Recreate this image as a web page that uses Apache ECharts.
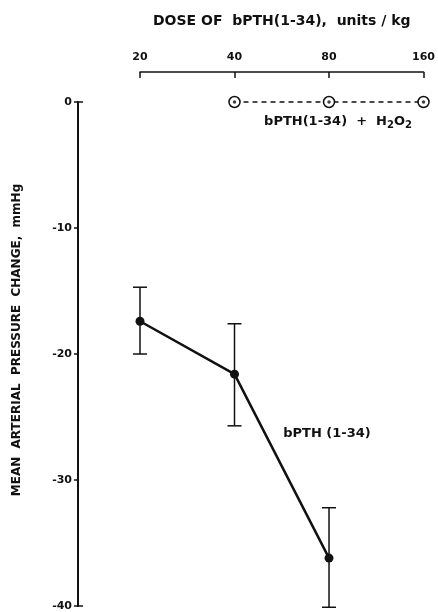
<!DOCTYPE html>
<html><head><meta charset="utf-8">
<script src="https://cdn.jsdelivr.net/npm/echarts@6/dist/echarts.min.js"></script>
<style>html,body{margin:0;padding:0;background:#fff}#c{width:438px;height:612px}</style>
</head><body><div id="c"></div>
<script>
const doseTicks = [20, 40, 80, 160];
const doses = [20, 40, 80];
const meanChange = [-17.4, -21.6, -36.2];
const errHigh = [-14.7, -17.6, -32.2];
const errLow = [-20.0, -25.7, -40.1];
const h2o2Doses = [40, 80, 160];
const h2o2Change = [0, 0, 0];
const yTicks = [0, -10, -20, -30, -40];

const base = doseTicks[0];
const lx = d => Math.log2(d / base);
const F = '"DejaVu Sans", Arial, sans-serif';
const yMin = yTicks[yTicks.length - 1], yMax = yTicks[0];

const mainData = doses.map((d, i) => [lx(d), meanChange[i]]);
const errData = doses.map((d, i) => [lx(d), errHigh[i], errLow[i]]);
const h2Data = h2o2Doses.map((d, i) => [lx(d), h2o2Change[i]]);

const chart = echarts.init(document.getElementById('c'), null, {renderer: 'canvas'});
chart.setOption({
  animation: false,
  backgroundColor: '#fff',
  grid: {left: 140, right: 12, top: 102, bottom: 6},
  xAxis: {
    type: 'value', position: 'top', offset: 30,
    min: 0, max: lx(doseTicks[doseTicks.length - 1]), interval: 1,
    name: 'DOSE OF  bPTH(1-34),  units / kg', nameLocation: 'middle', nameGap: 44,
    nameTextStyle: {fontFamily: F, fontSize: 14, fontWeight: 'bold', color: '#111'},
    axisLine: {onZero: false, lineStyle: {color: '#111', width: 1.5}},
    axisTick: {inside: true, length: 6, lineStyle: {color: '#111', width: 1.5}},
    axisLabel: {margin: 9, fontFamily: F, fontSize: 11, fontWeight: 'bold', color: '#111',
      formatter: v => String(Math.round(base * Math.pow(2, v)))},
    splitLine: {show: false}
  },
  yAxis: [{
    type: 'value', min: yMin, max: yMax, interval: 10,
    offset: 62,
    axisLine: {show: true, onZero: false, lineStyle: {color: '#111', width: 2}},
    axisTick: {show: true, length: 4, lineStyle: {color: '#111', width: 1.5}},
    axisLabel: {margin: 6, fontFamily: F, fontSize: 11, fontWeight: 'bold', color: '#111'},
    splitLine: {show: false}
  }, {
    type: 'value', position: 'left', min: yMin, max: yMax, interval: yMax - yMin,
    offset: 62,
    axisLine: {show: false, onZero: false},
    axisTick: {show: true, inside: true, length: 5, lineStyle: {color: '#111', width: 1.5}},
    axisLabel: {show: false},
    splitLine: {show: false}
  }],
  graphic: [
    {type: 'text', x: 17, y: 340, rotation: Math.PI / 2,
      style: {text: 'MEAN  ARTERIAL  PRESSURE  CHANGE,  mmHg', font: 'bold 12px ' + F, fill: '#111',
        textAlign: 'center', textVerticalAlign: 'middle'}},
    {type: 'text', x: 327, y: 434,
      style: {text: 'bPTH (1-34)', font: 'bold 13px ' + F, fill: '#111', textAlign: 'center', textVerticalAlign: 'middle'}},
    {type: 'text', x: 338, y: 122,
      style: {text: '{a|bPTH(1-34)  +  H}{s|2}{a|O}{s|2}', textAlign: 'center', textVerticalAlign: 'middle',
        rich: {a: {font: 'bold 13px ' + F, fill: '#111'}, s: {font: 'bold 10px ' + F, fill: '#111', padding: [6, 0, 0, 0]}}}}
  ],
  series: [
    {
      type: 'custom', name: 'err', clip: false, z: 3,
      renderItem: (params, api) => {
        const top = api.coord([api.value(0), api.value(1)]);
        const bot = api.coord([api.value(0), api.value(2)]);
        const w = 7;
        const st = {stroke: '#111', lineWidth: 1.5};
        return {type: 'group', children: [
          {type: 'line', shape: {x1: top[0], y1: top[1], x2: bot[0], y2: bot[1]}, style: st},
          {type: 'line', shape: {x1: top[0] - w, y1: top[1], x2: top[0] + w, y2: top[1]}, style: st},
          {type: 'line', shape: {x1: bot[0] - w, y1: bot[1], x2: bot[0] + w, y2: bot[1]}, style: st}
        ]};
      },
      encode: {x: 0, y: [1, 2]},
      data: errData
    },
    {
      type: 'line', name: 'bPTH(1-34)', data: mainData, clip: false, z: 4,
      symbol: 'circle', symbolSize: 9,
      itemStyle: {color: '#111'},
      lineStyle: {color: '#111', width: 2.5}
    },
    {
      type: 'line', name: 'bPTH(1-34) + H2O2', data: h2Data, clip: false, z: 4,
      symbol: 'circle', symbolSize: 11,
      itemStyle: {color: '#fff', borderColor: '#111', borderWidth: 1.5},
      lineStyle: {color: '#111', width: 1.5, type: [5, 4]}
    },
    {
      type: 'scatter', name: 'dots', data: h2Data, clip: false, z: 5,
      symbol: 'circle', symbolSize: 3.5, itemStyle: {color: '#111'}
    }
  ]
});
</script></body></html>
